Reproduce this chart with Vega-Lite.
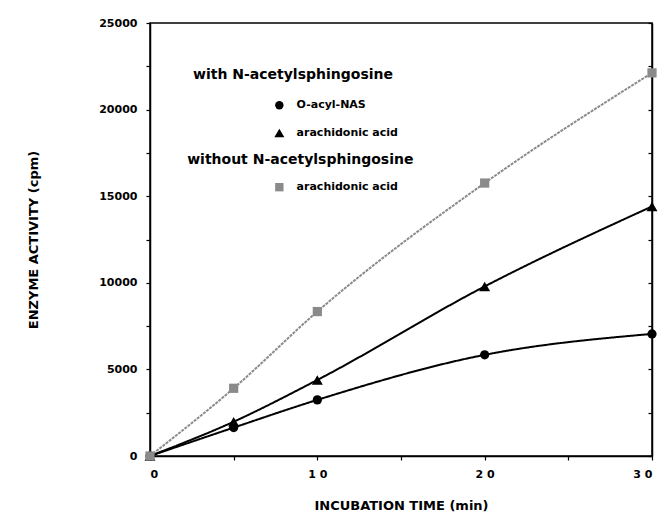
{
  "$schema": "https://vega.github.io/schema/vega-lite/v6.json",
  "autosize": {"type": "none"},
  "width": 502,
  "height": 433,
  "padding": {"left": 150, "top": 23, "right": 17, "bottom": 71},
  "background": "white",
  "datasets": {
    "main": [
      {"series": "O-acyl-NAS", "t": 0, "v": 0},
      {"series": "O-acyl-NAS", "t": 5, "v": 1640},
      {"series": "O-acyl-NAS", "t": 10, "v": 3240},
      {"series": "O-acyl-NAS", "t": 20, "v": 5840},
      {"series": "O-acyl-NAS", "t": 30, "v": 7050},
      {"series": "arachidonic acid (with)", "t": 0, "v": 0},
      {"series": "arachidonic acid (with)", "t": 5, "v": 1980},
      {"series": "arachidonic acid (with)", "t": 10, "v": 4390},
      {"series": "arachidonic acid (with)", "t": 20, "v": 9790},
      {"series": "arachidonic acid (with)", "t": 30, "v": 14410},
      {"series": "arachidonic acid (without)", "t": 0, "v": 0},
      {"series": "arachidonic acid (without)", "t": 5, "v": 3910},
      {"series": "arachidonic acid (without)", "t": 10, "v": 8340},
      {"series": "arachidonic acid (without)", "t": 20, "v": 15760},
      {"series": "arachidonic acid (without)", "t": 30, "v": 22120}
    ],
    "legendMarkers": [
      {"series": "O-acyl-NAS", "t": 7.73, "v": 20250},
      {"series": "arachidonic acid (with)", "t": 7.73, "v": 18650},
      {"series": "arachidonic acid (without)", "t": 7.73, "v": 15520}
    ],
    "legendText": [
      {"label": "with  N-acetylsphingosine", "kind": "heading", "t": 2.57, "v": 22000},
      {"label": "O-acyl-NAS", "kind": "item", "t": 8.76, "v": 20250},
      {"label": "arachidonic acid", "kind": "item", "t": 8.76, "v": 18650},
      {"label": "without  N-acetylsphingosine", "kind": "heading", "t": 2.22, "v": 17080},
      {"label": "arachidonic acid", "kind": "item", "t": 8.76, "v": 15520}
    ]
  },
  "layer": [
    {
      "layer": [
        {
          "data": {"name": "main"},
          "mark": {"type": "line", "interpolate": "monotone"},
          "encoding": {
            "x": {
              "field": "t", "type": "quantitative",
              "scale": {"domain": [0, 30], "nice": false, "zero": false},
              "axis": {
                "title": "INCUBATION  TIME  (min)",
                "values": [0, 5, 10, 15, 20, 25, 30],
                "labelExpr": "datum.value == 0 ? '0' : datum.value == 10 ? '1 0' : datum.value == 20 ? '2 0' : datum.value == 30 ? '3 0' : ''",
                "tickSize": 4,
                "labelPadding": 8,
                "titlePadding": 20,
                "grid": false
              }
            },
            "y": {
              "field": "v", "type": "quantitative",
              "scale": {"domain": [0, 25000], "nice": false},
              "axis": {
                "title": "ENZYME  ACTIVITY  (cpm)",
                "values": [0, 2500, 5000, 7500, 10000, 12500, 15000, 17500, 20000, 22500, 25000],
                "format": "d",
                "labelExpr": "datum.value % 5000 == 0 ? datum.label : ''",
                "tickSize": 4,
                "labelPadding": 9,
                "titlePadding": 58,
                "grid": false
              }
            },
            "detail": {"field": "series"},
            "color": {
              "field": "series", "type": "nominal",
              "scale": {"domain": ["O-acyl-NAS", "arachidonic acid (with)", "arachidonic acid (without)"], "range": ["#000000", "#000000", "#8a8a8a"]},
              "legend": null
            },
            "strokeWidth": {
              "field": "series", "type": "nominal",
              "scale": {"domain": ["O-acyl-NAS", "arachidonic acid (with)", "arachidonic acid (without)"], "range": [2, 2, 1.2]},
              "legend": null
            },
            "strokeDash": {
              "field": "series", "type": "nominal",
              "scale": {"domain": ["O-acyl-NAS", "arachidonic acid (with)", "arachidonic acid (without)"], "range": [[1, 0], [1, 0], [3, 1]]},
              "legend": null
            }
          }
        },
        {
          "data": {"name": "main"},
          "transform": [{"filter": "datum.series == 'arachidonic acid (with)'"}],
          "mark": {"type": "point", "filled": true, "opacity": 1, "size": 120},
          "encoding": {
            "x": {"field": "t", "type": "quantitative"},
            "y": {"field": "v", "type": "quantitative"},
            "shape": {
              "field": "series", "type": "nominal",
              "scale": {"domain": ["O-acyl-NAS", "arachidonic acid (with)", "arachidonic acid (without)"], "range": ["circle", "triangle-up", "square"]},
              "legend": null
            },
            "color": {"field": "series", "type": "nominal", "legend": null}
          }
        },
        {
          "data": {"name": "main"},
          "transform": [{"filter": "datum.series != 'arachidonic acid (with)'"}],
          "mark": {"type": "point", "filled": true, "opacity": 1, "size": 85},
          "encoding": {
            "x": {"field": "t", "type": "quantitative"},
            "y": {"field": "v", "type": "quantitative"},
            "shape": {"field": "series", "type": "nominal", "legend": null},
            "color": {"field": "series", "type": "nominal", "legend": null}
          }
        },
        {
          "data": {"name": "legendMarkers"},
          "transform": [{"filter": "datum.series != 'arachidonic acid (with)'"}],
          "mark": {"type": "point", "filled": true, "opacity": 1, "size": 70},
          "encoding": {
            "x": {"field": "t", "type": "quantitative"},
            "y": {"field": "v", "type": "quantitative"},
            "shape": {"field": "series", "type": "nominal", "legend": null},
            "color": {"field": "series", "type": "nominal", "legend": null}
          }
        },
        {
          "data": {"name": "legendMarkers"},
          "transform": [{"filter": "datum.series == 'arachidonic acid (with)'"}],
          "mark": {"type": "point", "filled": true, "opacity": 1, "size": 100},
          "encoding": {
            "x": {"field": "t", "type": "quantitative"},
            "y": {"field": "v", "type": "quantitative"},
            "shape": {"field": "series", "type": "nominal", "legend": null},
            "color": {"field": "series", "type": "nominal", "legend": null}
          }
        },
        {
          "data": {"name": "legendText"},
          "transform": [{"filter": "datum.kind == 'heading'"}],
          "mark": {"type": "text", "align": "left", "baseline": "middle", "font": "DejaVu Sans", "fontWeight": "bold", "fontSize": 14, "color": "black"},
          "encoding": {
            "x": {"field": "t", "type": "quantitative"},
            "y": {"field": "v", "type": "quantitative"},
            "text": {"field": "label"}
          }
        },
        {
          "data": {"name": "legendText"},
          "transform": [{"filter": "datum.kind == 'item'"}],
          "mark": {"type": "text", "align": "left", "baseline": "middle", "font": "DejaVu Sans", "fontWeight": "bold", "fontSize": 11, "color": "black"},
          "encoding": {
            "x": {"field": "t", "type": "quantitative"},
            "y": {"field": "v", "type": "quantitative"},
            "text": {"field": "label"}
          }
        }
      ]
    },
    {
      "data": {"name": "main"},
      "mark": {"type": "point", "opacity": 0},
      "encoding": {
        "x": {"field": "t", "type": "quantitative"},
        "y": {
          "field": "v", "type": "quantitative",
          "axis": {
            "orient": "right",
            "values": [0, 2500, 5000, 7500, 10000, 12500, 15000, 17500, 20000, 22500, 25000],
            "labels": false,
            "title": null,
            "tickSize": -4,
            "grid": false
          }
        }
      }
    }
  ],
  "resolve": {"axis": {"y": "independent"}},
  "config": {
    "view": {"stroke": "black", "strokeWidth": 1.5},
    "axis": {
      "domainColor": "black",
      "domainWidth": 1.5,
      "tickColor": "black",
      "tickWidth": 1.2,
      "labelFont": "DejaVu Sans",
      "labelFontWeight": "bold",
      "labelFontSize": 11,
      "labelColor": "black",
      "titleFont": "DejaVu Sans",
      "titleFontWeight": "bold",
      "titleFontSize": 13,
      "titleColor": "black"
    }
  }
}
